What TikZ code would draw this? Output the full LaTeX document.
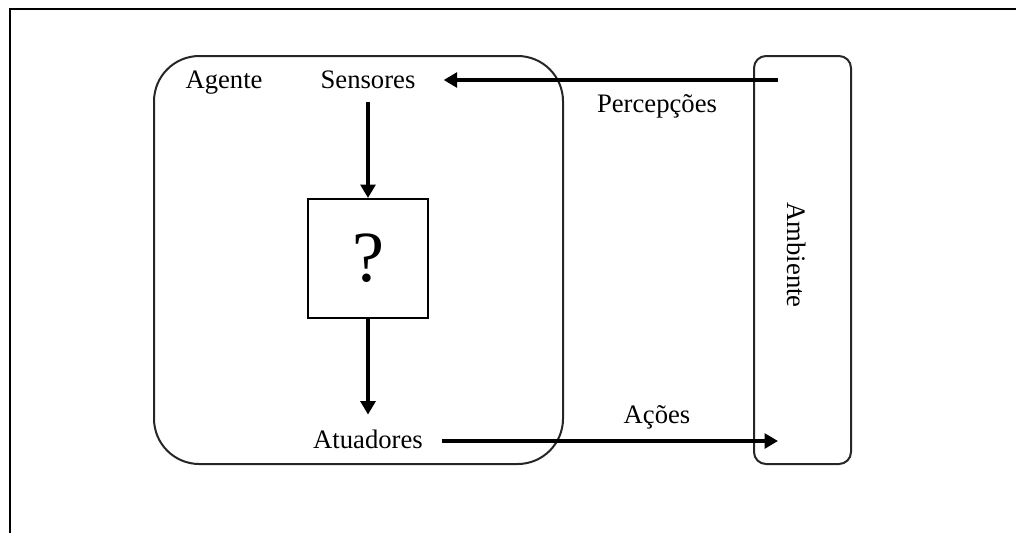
\documentclass[tikz,border=0pt]{standalone}
\usepackage{fontspec}
\setmainfont{Liberation Serif}
\usetikzlibrary{arrows.meta}
\begin{document}
\begin{tikzpicture}[x=0.75pt,y=-0.75pt,
  lbl/.style={font=\fontsize{20}{24}\selectfont, inner sep=0pt, anchor=base},
  boxline/.style={draw=black!85, line width=1.5pt, inner sep=0pt},
  arr/.style={line width=2.8pt, -{Triangle[length=10pt,width=11pt]}},
]
\useasboundingbox (0,0) rectangle (1016,533);
% frame
\draw[line width=1.8pt] (1016,9) -- (10,9) -- (10,533);
% boxes
\node[boxline, rounded corners=34pt, minimum width=306.75pt, minimum height=306pt] (agent) at (358.5,260) {};
\node[boxline, rounded corners=9pt, minimum width=72.75pt, minimum height=306pt] (amb) at (802.5,260) {};
\node[boxline, draw=black, minimum width=90pt, minimum height=89.25pt, font=\fontsize{54}{60}\selectfont] (q) at (368,258.5) {?};
% labels
\node[lbl] (agente) at (224,88) {Agente};
\node[lbl] (sens) at (368,88) {Sensores};
\node[lbl] (atu) at (368,448) {Atuadores};
\node[lbl] (perc) at (657,112) {Percepções};
\node[lbl] (acoes) at (657,423) {Ações};
\node[font=\fontsize{20}{24}\selectfont, inner sep=0pt, rotate=-90] (ambl) at (797,255) {Ambiente};
% connectors
\coordinate (percStart) at (778,80);
\coordinate (acEnd) at (778,441);
\draw[arr] (percStart) -- ([xshift=21pt]sens.east |- percStart);
\draw[arr] ([yshift=-10pt]sens.south) -- (q.north);
\draw[arr] (q.south) -- ([yshift=11pt]atu.north);
\draw[arr] ([xshift=14pt]atu.east |- acEnd) -- (acEnd);
\end{tikzpicture}
\end{document}
